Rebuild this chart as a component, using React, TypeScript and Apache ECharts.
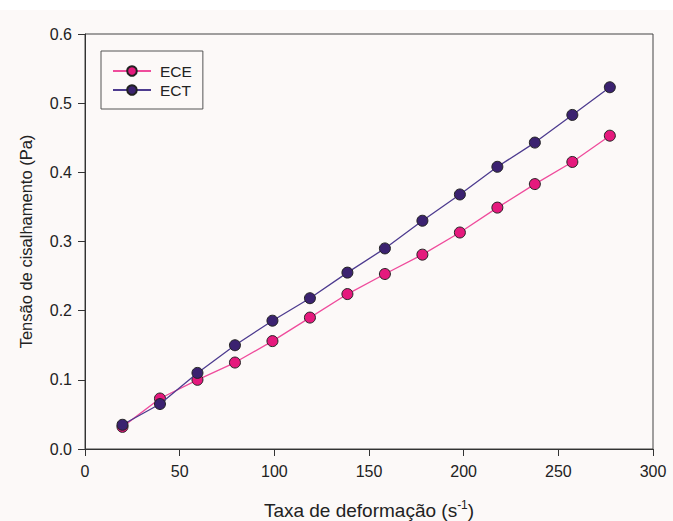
import React, { useEffect, useRef } from "react";
import * as echarts from "echarts";

const xValues = [19.8, 39.6, 59.4, 79.2, 99, 118.8, 138.6, 158.4, 178.2, 198, 217.8, 237.6, 257.4, 277.2];
const eceValues = [0.032, 0.073, 0.1, 0.125, 0.156, 0.19, 0.224, 0.253, 0.281, 0.313, 0.349, 0.383, 0.415, 0.453];
const ectValues = [0.035, 0.065, 0.11, 0.15, 0.1855, 0.218, 0.255, 0.29, 0.33, 0.368, 0.408, 0.443, 0.483, 0.523];
const seriesNames = ["ECE", "ECT"];
const xTitle = "Taxa de deformação";
const yTitle = "Tensão de cisalhamento (Pa)";

export default function App() {
  const ref = useRef<HTMLDivElement>(null);
  useEffect(() => {
    document.body.style.margin = "0";
    const chart = echarts.init(ref.current!, null, { renderer: "svg" });
    const font = "'Liberation Sans', Arial, sans-serif";
    const axisLine = { show: true, lineStyle: { color: "#333", width: 1 } };
    const axisTick = { show: true, inside: false, length: 7, lineStyle: { color: "#333" } };
    const labelBase = { color: "#222", fontSize: 16, fontFamily: font };
    chart.setOption({
      animation: false,
      backgroundColor: "transparent",
      textStyle: { fontFamily: font },
      grid: {
        left: 85,
        right: 20,
        top: 34,
        bottom: 72,
        containLabel: false,
        outerBoundsMode: "none",
        show: true,
        borderColor: "#444",
        borderWidth: 1,
        backgroundColor: "transparent",
      },
      legend: {
        orient: "vertical",
        left: 101,
        top: 51,
        data: seriesNames,
        borderColor: "#555",
        borderWidth: 1,
        borderRadius: 0,
        padding: [12, 11, 11, 11],
        itemWidth: 38,
        itemHeight: 12,
        itemGap: 3,
        textStyle: { fontSize: 15.5, color: "#222", fontFamily: font, padding: [0, 0, 0, 4] },
      },
      xAxis: {
        type: "value",
        min: 0,
        max: 300,
        interval: 50,
        axisLine,
        axisTick,
        splitLine: { show: false },
        axisLabel: { ...labelBase, margin: 14 },
        name: xTitle + " (s{sup|-1})",
        nameLocation: "middle",
        nameGap: 50,
        nameTextStyle: {
          fontSize: 19,
          color: "#222",
          fontFamily: font,
          rich: {
            sup: { fontSize: 12, color: "#222", fontFamily: font, padding: [0, 0, 10, 0] },
          },
        },
      },
      yAxis: {
        type: "value",
        min: 0,
        max: 0.6,
        interval: 0.1,
        axisLine,
        axisTick,
        splitLine: { show: false },
        axisLabel: { ...labelBase, margin: 13, formatter: (v: number) => v.toFixed(1) },
        name: yTitle,
        nameLocation: "middle",
        nameGap: 51,
        nameTextStyle: { fontSize: 16.5, color: "#222", fontFamily: font },
      },
      series: [
        {
          name: seriesNames[0],
          type: "line",
          data: xValues.map((x, i) => [x, eceValues[i]]),
          symbol: "circle",
          symbolSize: 11,
          lineStyle: { color: "#ef4c9c", width: 1.3 },
          itemStyle: { color: "#e5197d", borderColor: "#222", borderWidth: 1 },
          z: 3,
        },
        {
          name: seriesNames[1],
          type: "line",
          data: xValues.map((x, i) => [x, ectValues[i]]),
          symbol: "circle",
          symbolSize: 11,
          lineStyle: { color: "#4d3b8f", width: 1.3 },
          itemStyle: { color: "#3b2270", borderColor: "#222", borderWidth: 1 },
          z: 4,
        },
      ],
    });
    return () => chart.dispose();
  }, []);
  return (
    <div
      style={{
        width: 673,
        height: 521,
        background: "linear-gradient(#ffffff 0px, #ffffff 10px, #fcf9f8 10px, #fcf9f8 100%)",
      }}
    >
      <div ref={ref} style={{ width: 673, height: 521 }} />
    </div>
  );
}
